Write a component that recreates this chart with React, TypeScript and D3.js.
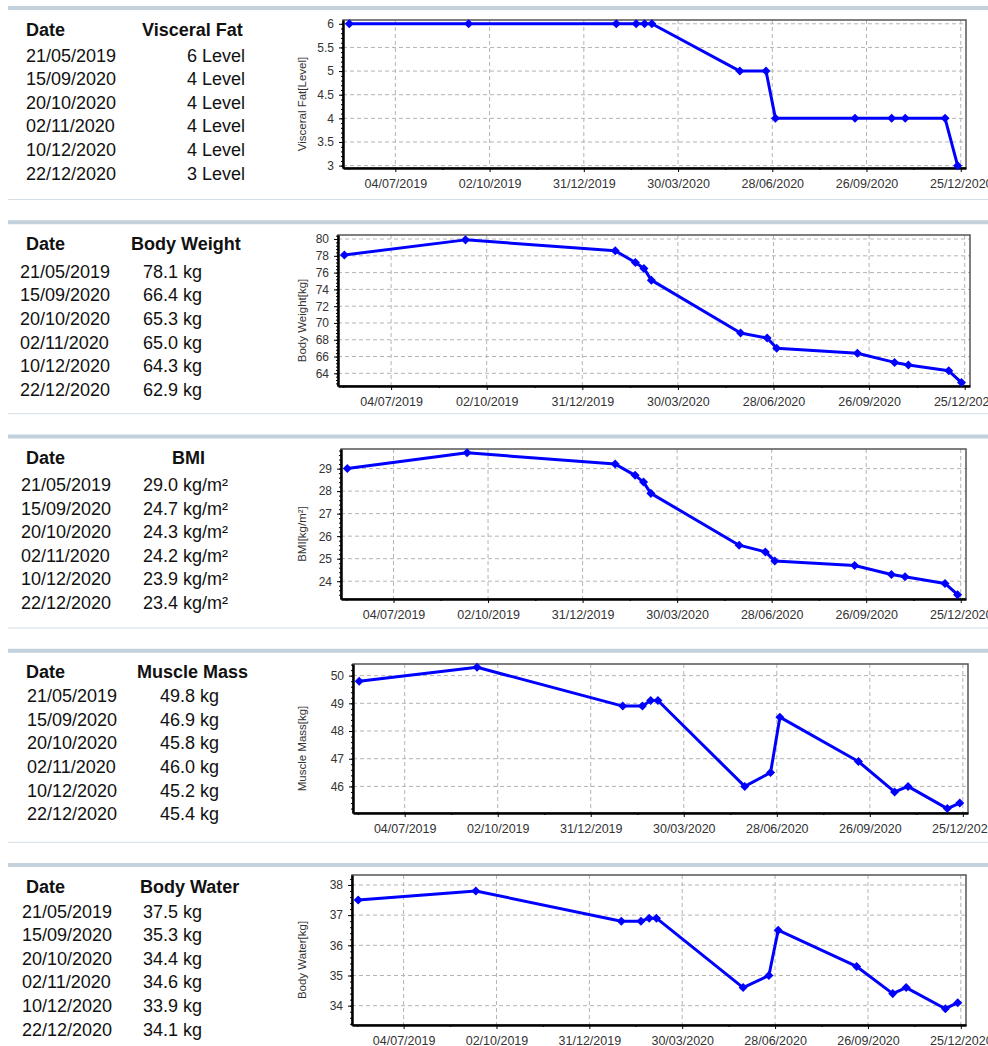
import React, { useEffect, useRef } from 'react';
import * as d3 from 'd3';

// measurement dates (shared by all five series)
const dates = [
  '2019-05-21', '2019-09-12', '2020-01-31', '2020-02-19', '2020-02-27', '2020-03-05',
  '2020-05-28', '2020-06-22', '2020-07-01', '2020-09-15', '2020-10-20', '2020-11-02',
  '2020-12-10', '2020-12-22',
];
const visceralFat = [6, 6, 6, 6, 6, 6, 5, 5, 4, 4, 4, 4, 4, 3];
const bodyWeight = [78.1, 79.9, 78.6, 77.2, 76.5, 75.1, 68.8, 68.2, 67.0, 66.4, 65.3, 65.0, 64.3, 62.9];
const bmi = [29.0, 29.7, 29.2, 28.7, 28.4, 27.9, 25.6, 25.3, 24.9, 24.7, 24.3, 24.2, 23.9, 23.4];
const muscleMass = [49.8, 50.3, 48.9, 48.9, 49.1, 49.1, 46.0, 46.5, 48.5, 46.9, 45.8, 46.0, 45.2, 45.4];
const bodyWater = [37.5, 37.8, 36.8, 36.8, 36.9, 36.9, 34.6, 35.0, 36.5, 35.3, 34.4, 34.6, 33.9, 34.1];

const xTickDates = ['2019-07-04', '2019-10-02', '2019-12-31', '2020-03-30', '2020-06-28', '2020-09-26', '2020-12-25'];
const xDomain = ['2019-05-15', '2020-12-30'];

const visceralTicks = [3, 3.5, 4, 4.5, 5, 5.5, 6];
const weightTicks = [64, 66, 68, 70, 72, 74, 76, 78, 80];
const bmiTicks = [24, 25, 26, 27, 28, 29];
const muscleTicks = [46, 47, 48, 49, 50];
const waterTicks = [34, 35, 36, 37, 38];

const FONT = '"Liberation Sans", Arial, Helvetica, sans-serif';

const panels = [
  {
    title: 'Visceral Fat', axisLabel: 'Visceral Fat[Level]', values: visceralFat, ticks: visceralTicks,
    fmt: (v: number) => `${v} Level`, yDomain: [2.95, 6.08],
    plot: [343, 966, 20, 168], headerX: 142, valueX: 245, anchor: 'end', dateX: 26, rowY: 49,
  },
  {
    title: 'Body Weight', axisLabel: 'Body Weight[kg]', values: bodyWeight, ticks: weightTicks,
    fmt: (v: number) => `${v.toFixed(1)} kg`, yDomain: [62.49, 80.48],
    plot: [338, 970, 235, 386], headerX: 131, valueX: 143, anchor: 'start', dateX: 20, rowY: 51,
  },
  {
    title: 'BMI', axisLabel: 'BMI[kg/m²]', values: bmi, ticks: bmiTicks,
    fmt: (v: number) => `${v.toFixed(1)} kg/m²`, yDomain: [23.21, 29.87],
    plot: [341, 966, 449, 599], headerX: 172, valueX: 143, anchor: 'start', dateX: 21, rowY: 50,
  },
  {
    title: 'Muscle Mass', axisLabel: 'Muscle Mass[kg]', values: muscleMass, ticks: muscleTicks,
    fmt: (v: number) => `${v.toFixed(1)} kg`, yDomain: [45.04, 50.42],
    plot: [353, 968, 664, 813], headerX: 137, valueX: 160, anchor: 'start', dateX: 27, rowY: 47,
  },
  {
    title: 'Body Water', axisLabel: 'Body Water[kg]', values: bodyWater, ticks: waterTicks,
    fmt: (v: number) => `${v.toFixed(1)} kg`, yDomain: [33.36, 38.33],
    plot: [352, 966, 875, 1025], headerX: 140, valueX: 143, anchor: 'start', dateX: 22, rowY: 48,
  },
];

export default function App() {
  const svgRef = useRef<SVGSVGElement | null>(null);

  useEffect(() => {
    if (!svgRef.current) return;
    const parse = d3.timeParse('%Y-%m-%d');
    const fmtDate = d3.timeFormat('%d/%m/%Y');
    const when = dates.map((d) => parse(d) as Date);
    const majors = xTickDates.map((d) => parse(d) as Date);
    const dom = xDomain.map((d) => parse(d) as Date);
    const minors = majors
      .flatMap((d) => [d3.timeDay.offset(d, -45), d3.timeDay.offset(d, 45)])
      .filter((d) => d >= dom[0] && d <= dom[1]);

    const svg = d3.select(svgRef.current);
    svg.selectAll('*').remove();

    panels.forEach((p, i) => {
      const T = 6 + i * 214.25;
      const g = svg.append('g').attr('font-family', FONT);

      // separators
      g.append('rect').attr('x', 8).attr('y', T).attr('width', 980).attr('height', 4).attr('fill', '#c3d1dc');
      g.append('rect').attr('x', 8).attr('y', T + 193).attr('width', 980).attr('height', 1).attr('fill', '#d3dee6');

      // table: first reading plus the last five
      const tbl = g.append('g').attr('font-size', 18).attr('fill', '#111');
      tbl.append('text').attr('x', 26).attr('y', T + 23 + 6.5).attr('font-weight', 'bold').text('Date');
      tbl.append('text').attr('x', p.headerX).attr('y', T + 23 + 6.5).attr('font-weight', 'bold').text(p.title);
      const rows = [0, ...d3.range(when.length - 5, when.length)];
      rows.forEach((idx, k) => {
        const cy = T + p.rowY + k * 23.6 + 6.5;
        tbl.append('text').attr('x', p.dateX).attr('y', cy).text(fmtDate(when[idx]));
        tbl.append('text').attr('x', p.valueX).attr('y', cy).attr('text-anchor', p.anchor).text(p.fmt(p.values[idx]));
      });

      // chart
      const [L, R, top, bottom] = p.plot;
      const x = d3.scaleTime().domain(dom).range([L, R]);
      const y = d3.scaleLinear().domain(p.yDomain).range([bottom, top]);
      const step = p.ticks[1] - p.ticks[0];
      const yMinor = d3.range(Math.ceil(p.yDomain[0] / (step / 5)), Math.floor(p.yDomain[1] / (step / 5)) + 1)
        .map((k) => k * step / 5);

      g.append('rect').attr('x', L).attr('y', top).attr('width', R - L).attr('height', bottom - top).attr('fill', '#fff');

      // grid
      const grid = g.append('g').attr('stroke', '#b4b4b4').attr('stroke-width', 1).attr('stroke-dasharray', '4,3');
      grid.selectAll('.gx').data(majors).enter().append('line')
        .attr('x1', (d) => x(d)).attr('x2', (d) => x(d)).attr('y1', top).attr('y2', bottom);
      grid.selectAll('.gy').data(p.ticks).enter().append('line')
        .attr('x1', L).attr('x2', R).attr('y1', (d) => y(d)).attr('y2', (d) => y(d));

      // frame
      g.append('rect').attr('x', L).attr('y', top).attr('width', R - L).attr('height', bottom - top)
        .attr('fill', 'none').attr('stroke', '#555').attr('stroke-width', 1.5);

      // y axis
      const yAxis = g.append('g').attr('transform', `translate(${L},0)`)
        .call(d3.axisLeft(y).tickValues(p.ticks).tickSize(4).tickSizeOuter(0).tickPadding(5).tickFormat((d) => `${d}`));
      g.append('g').attr('transform', `translate(${L},0)`)
        .call(d3.axisLeft(y).tickValues(yMinor).tickSize(2).tickSizeOuter(0).tickFormat(() => ''))
        .call((s) => s.select('.domain').remove());
      yAxis.select('.domain').attr('stroke', '#000').attr('stroke-width', 2.5);
      yAxis.selectAll('text').attr('font-size', 12).attr('font-family', FONT).attr('fill', '#333');

      // x axis
      const xAxis = g.append('g').attr('transform', `translate(0,${bottom})`)
        .call(d3.axisBottom(x).tickValues(majors).tickSize(4).tickSizeOuter(0).tickPadding(7).tickFormat((d) => fmtDate(d as Date)));
      g.append('g').attr('transform', `translate(0,${bottom})`)
        .call(d3.axisBottom(x).tickValues(minors).tickSize(2).tickSizeOuter(0).tickFormat(() => ''))
        .call((s) => s.select('.domain').remove());
      xAxis.select('.domain').attr('stroke', '#000').attr('stroke-width', 2.5);
      xAxis.selectAll('text').attr('font-size', 12.5).attr('font-family', FONT).attr('fill', '#333');

      // axis label
      g.append('text')
        .attr('transform', `translate(${306},${(top + bottom) / 2 + 10}) rotate(-90)`)
        .attr('text-anchor', 'middle').attr('font-size', 11.5).attr('fill', '#333')
        .text(p.axisLabel);

      // series
      const pts = when.map((d, k) => ({ d, v: p.values[k] }));
      const line = d3.line<{ d: Date; v: number }>().x((q) => x(q.d)).y((q) => y(q.v));
      g.append('path').datum(pts).attr('d', line).attr('fill', 'none')
        .attr('stroke', '#0000ff').attr('stroke-width', 3).attr('stroke-linejoin', 'round');
      g.append('g').selectAll('path').data(pts).enter().append('path')
        .attr('transform', (q) => `translate(${x(q.d)},${y(q.v)})`)
        .attr('d', d3.symbol().type(d3.symbolDiamond2).size(52)())
        .attr('fill', '#0000ff');
    });
  }, []);

  return (
    <svg
      ref={svgRef}
      width={988}
      height={1046}
      style={{ position: 'absolute', left: 0, top: 0, background: '#fff' }}
    />
  );
}
